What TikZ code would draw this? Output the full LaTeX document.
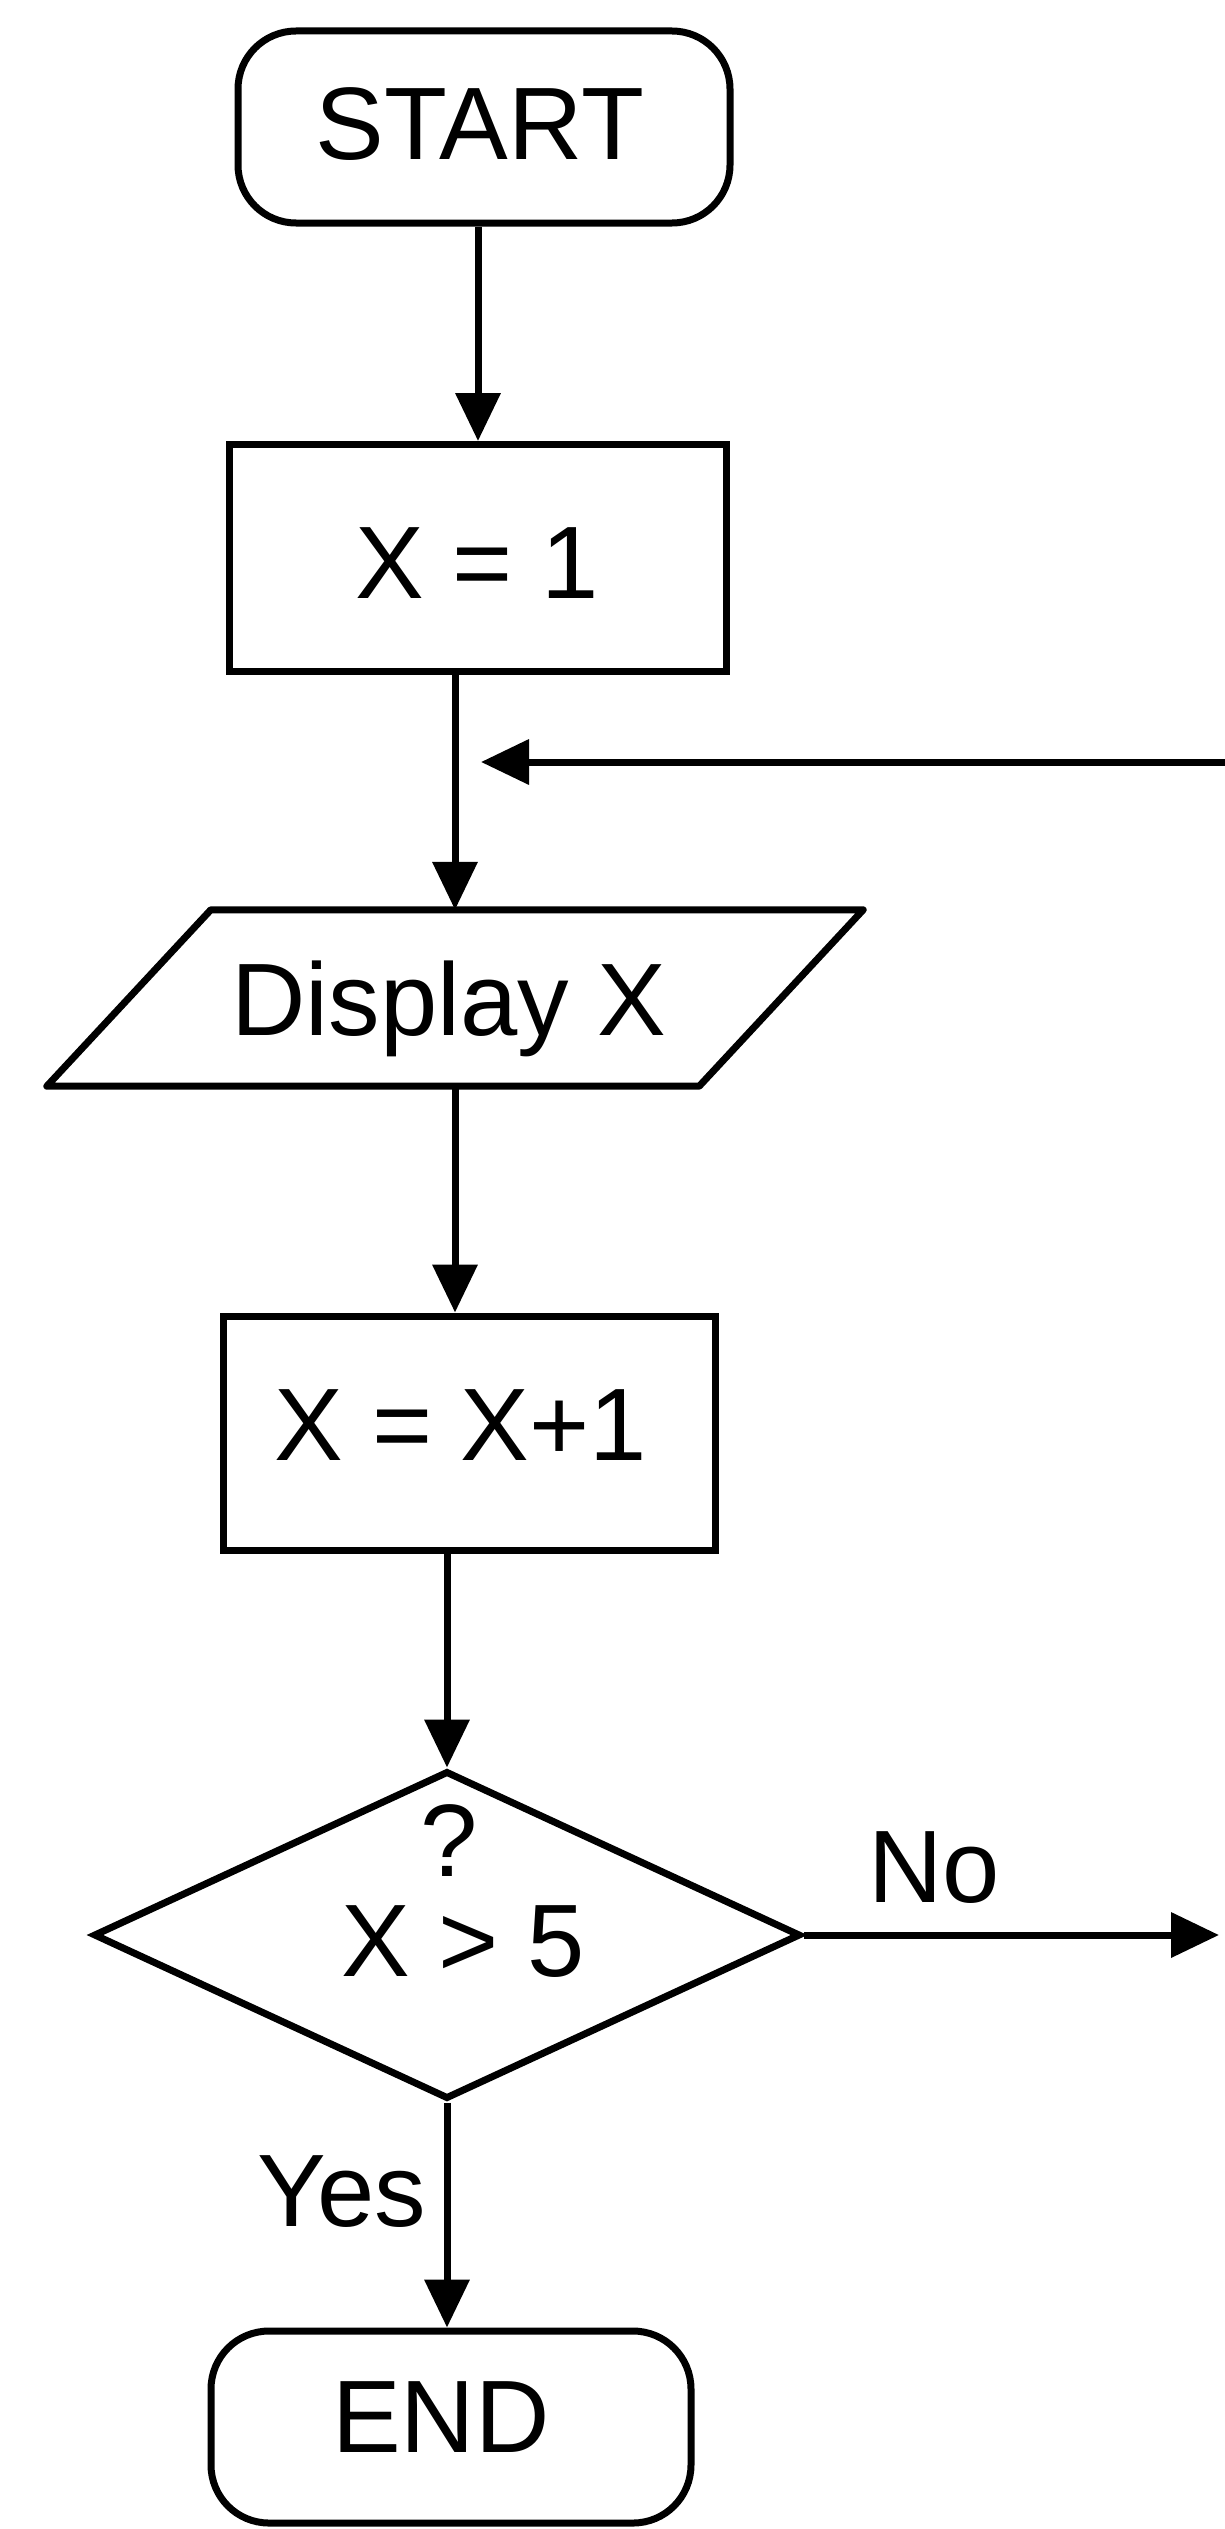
\documentclass[tikz,border=0pt]{standalone}
\usepackage{fontspec}
\setmainfont{Liberation Sans}
\usetikzlibrary{shapes.geometric,arrows.meta}
\begin{document}
\begin{tikzpicture}[x=1pt,y=-1pt,
  lbl/.style={font=\fontsize{103}{118}\selectfont, inner sep=0pt, anchor=base},
  shp/.style={draw, line width=7pt, inner sep=0pt},
  term/.style={shp, rounded corners=58pt, minimum height=192pt},
  procbox/.style={shp, minimum width=497pt},
  arr/.style={line width=7pt, -{Triangle[length=48pt, width=44pt]}}
]
\useasboundingbox (0,0) rectangle (1225,2529);
% shapes
\node[term, minimum width=492pt] (start) at (484,127) {};
\node[procbox, minimum height=227pt] (x1) at (478,558) {};
\node[inner sep=0pt, minimum width=652pt, minimum height=176pt] (disp) at (455,998) {};
\draw[shp, line join=round] ([xshift=-82pt]disp.south west) -- ([xshift=82pt]disp.north west)
   -- ([xshift=82pt]disp.north east) -- ([xshift=-82pt]disp.south east) -- cycle;
\node[procbox, minimum width=492pt, minimum height=234pt] (xx1) at (469,1433) {};
\node[shp, diamond, minimum width=707pt, minimum height=328pt] (dec) at (447,1935) {};
\node[term, minimum width=480pt] (end) at (451,2427) {};
% texts
\node[lbl] (tstart) at (480,160) {START};
\node[lbl] (tx1) at (477,598) {X = 1};
\node[lbl] (tdisp) at (449,1035) {Display X};
\node[lbl] (txx1) at (461,1460) {X = X+1};
\node[lbl] (tq) at (449,1876) {?};
\node[lbl] (tcond) at (463,1976) {X > 5};
\node[lbl] (tno) at (934,1902) {No};
\node[lbl] (tyes) at (342,2226) {Yes};
\node[lbl] (tend) at (441,2452) {END};
% free ends
\coordinate (loopR) at (1225,762);
\coordinate (noR) at (1219,1935);
% connectors
\draw[arr] (start.south -| x1.north) -- (x1.north);
\draw[arr] (x1.south -| disp.north) -- (disp.north);
\draw[arr] (loopR) -- ([xshift=26pt]loopR -| disp.north);
\draw[arr] (disp.south) -- (disp.south |- xx1.north);
\draw[arr] (xx1.south -| dec.north) -- (dec.north);
\draw[arr] (dec.east) -- (noR);
\draw[arr] (dec.south) -- (dec.south |- end.north);
\end{tikzpicture}
\end{document}
